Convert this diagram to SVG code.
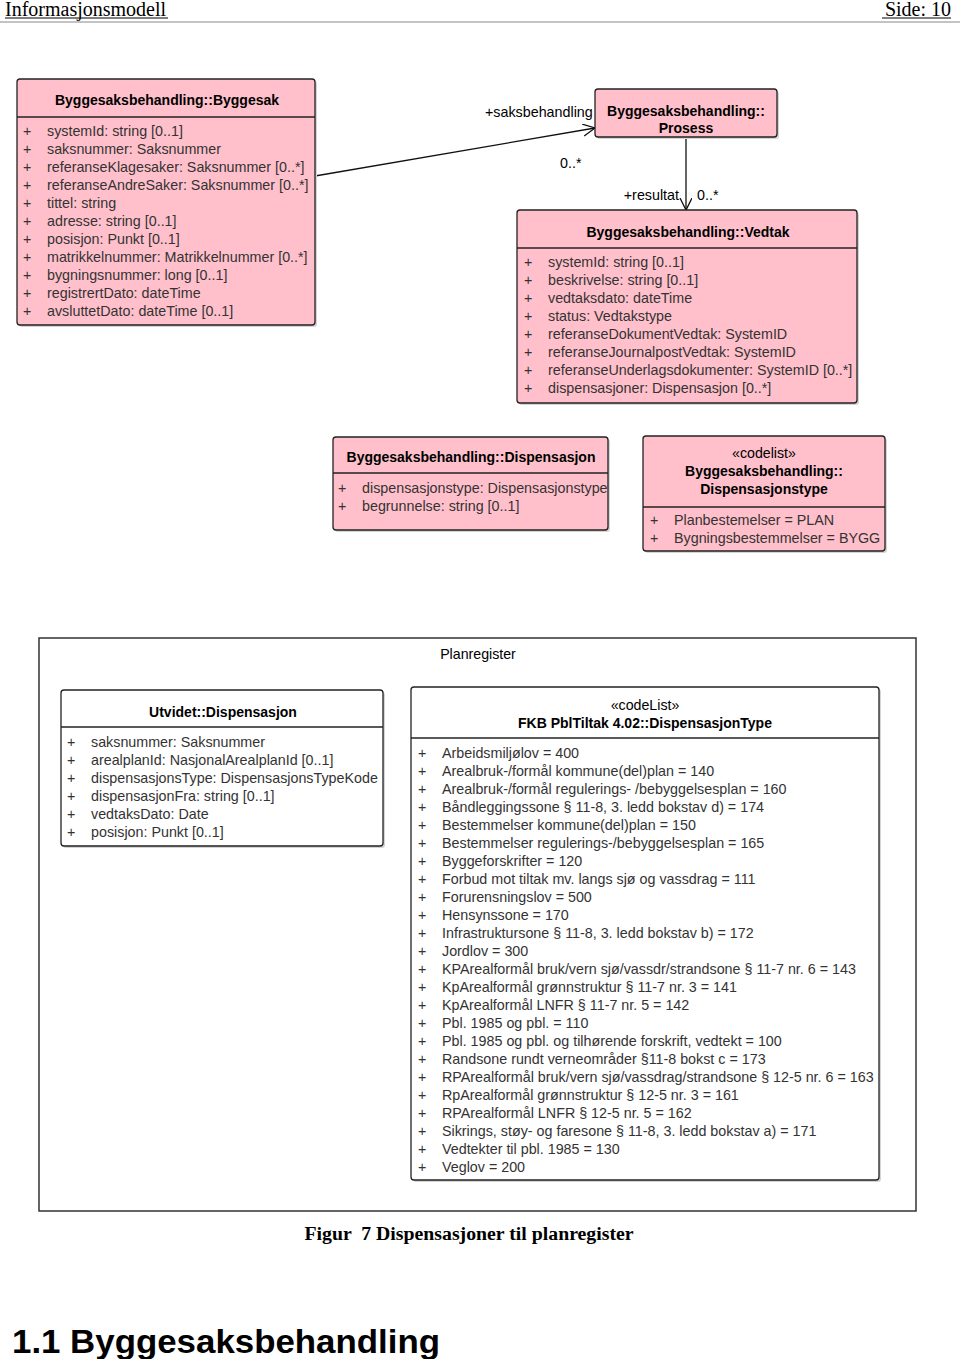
<svg xmlns="http://www.w3.org/2000/svg" width="960" height="1359" viewBox="0 0 960 1359">
<defs>
<style>
.box{fill:#FFC0CB;stroke:#222;stroke-width:1.3}
.wbox{fill:#fff;stroke:#222;stroke-width:1.3}
.sh{fill:#d4d4d4;stroke:none}
.sep{stroke:#222;stroke-width:1.3}
.t{font-family:"Liberation Sans",Arial,sans-serif;font-size:14px;font-weight:bold;fill:#000;text-anchor:middle}
.st{font-family:"Liberation Sans",Arial,sans-serif;font-size:14.2px;fill:#000;text-anchor:middle}
.a{font-family:"Liberation Sans",Arial,sans-serif;font-size:14.3px;fill:#333}
.lbl{font-family:"Liberation Sans",Arial,sans-serif;font-size:14.3px;fill:#000}
.conn{stroke:#111;stroke-width:1.3;fill:none}
</style>
<marker id="open" markerUnits="userSpaceOnUse" markerWidth="16" markerHeight="16" refX="12" refY="6" orient="auto">
<path d="M0,0 L12,6 L0,12" fill="none" stroke="#111" stroke-width="1.3"/>
</marker>
</defs>
<rect x="0" y="0" width="960" height="1359" fill="#fff"/>

<!-- page header -->
<g id="page-header">
<text x="5" y="16" font-family="Liberation Serif,'Times New Roman',serif" font-size="20" fill="#000">Informasjonsmodell</text>
<line x1="5" y1="18" x2="168" y2="18" stroke="#000" stroke-width="1"/>
<text x="951" y="16" font-family="Liberation Serif,'Times New Roman',serif" font-size="20" fill="#000" text-anchor="end">Side: 10</text>
<line x1="882" y1="18" x2="951" y2="18" stroke="#000" stroke-width="1"/>
<line x1="0" y1="22" x2="960" y2="22" stroke="#888" stroke-width="1"/>
</g>

<!-- connectors -->
<g id="connectors">
<line class="conn" x1="315" y1="176" x2="595" y2="128" marker-end="url(#open)"/>
<text class="lbl" x="485" y="117">+saksbehandling</text>
<text class="lbl" x="560" y="168">0..*</text>
<line class="conn" x1="686" y1="137" x2="686" y2="210" marker-end="url(#open)"/>
<text class="lbl" x="679" y="200" text-anchor="end">+resultat</text>
<text class="lbl" x="697" y="200">0..*</text>
</g>

<!-- Byggesak -->
<g id="byggesak">
<rect class="sh" x="19" y="81" width="298" height="246" rx="3"/>
<rect class="box" x="17" y="79" width="298" height="246" rx="3"/>
<line class="sep" x1="17" y1="117" x2="315" y2="117"/>
<text class="t" x="167" y="105">Byggesaksbehandling::Byggesak</text>
<g class="a">
<text x="23" y="136">+</text><text x="47" y="136">systemId: string [0..1]</text>
<text x="23" y="154">+</text><text x="47" y="154">saksnummer: Saksnummer</text>
<text x="23" y="172">+</text><text x="47" y="172">referanseKlagesaker: Saksnummer [0..*]</text>
<text x="23" y="190">+</text><text x="47" y="190">referanseAndreSaker: Saksnummer [0..*]</text>
<text x="23" y="208">+</text><text x="47" y="208">tittel: string</text>
<text x="23" y="226">+</text><text x="47" y="226">adresse: string [0..1]</text>
<text x="23" y="244">+</text><text x="47" y="244">posisjon: Punkt [0..1]</text>
<text x="23" y="262">+</text><text x="47" y="262">matrikkelnummer: Matrikkelnummer [0..*]</text>
<text x="23" y="280">+</text><text x="47" y="280">bygningsnummer: long [0..1]</text>
<text x="23" y="298">+</text><text x="47" y="298">registrertDato: dateTime</text>
<text x="23" y="316">+</text><text x="47" y="316">avsluttetDato: dateTime [0..1]</text>
</g>
</g>

<!-- Prosess -->
<g id="prosess">
<rect class="sh" x="597" y="91" width="182" height="48" rx="3"/>
<rect class="box" x="595" y="89" width="182" height="48" rx="3"/>
<text class="t" x="686" y="116">Byggesaksbehandling::</text>
<text class="t" x="686" y="133">Prosess</text>
</g>

<!-- Vedtak -->
<g id="vedtak">
<rect class="sh" x="519" y="212" width="340" height="193" rx="3"/>
<rect class="box" x="517" y="210" width="340" height="193" rx="3"/>
<line class="sep" x1="517" y1="248" x2="857" y2="248"/>
<text class="t" x="688" y="237">Byggesaksbehandling::Vedtak</text>
<g class="a">
<text x="524" y="267">+</text><text x="548" y="267">systemId: string [0..1]</text>
<text x="524" y="285">+</text><text x="548" y="285">beskrivelse: string [0..1]</text>
<text x="524" y="303">+</text><text x="548" y="303">vedtaksdato: dateTime</text>
<text x="524" y="321">+</text><text x="548" y="321">status: Vedtakstype</text>
<text x="524" y="339">+</text><text x="548" y="339">referanseDokumentVedtak: SystemID</text>
<text x="524" y="357">+</text><text x="548" y="357">referanseJournalpostVedtak: SystemID</text>
<text x="524" y="375">+</text><text x="548" y="375">referanseUnderlagsdokumenter: SystemID [0..*]</text>
<text x="524" y="393">+</text><text x="548" y="393">dispensasjoner: Dispensasjon [0..*]</text>
</g>
</g>

<!-- Dispensasjon -->
<g id="dispensasjon">
<rect class="sh" x="335" y="439" width="275" height="93" rx="3"/>
<rect class="box" x="333" y="437" width="275" height="93" rx="3"/>
<line class="sep" x1="333" y1="473" x2="608" y2="473"/>
<text class="t" x="471" y="462">Byggesaksbehandling::Dispensasjon</text>
<g class="a">
<text x="338" y="493">+</text><text x="362" y="493">dispensasjonstype: Dispensasjonstype</text>
<text x="338" y="511">+</text><text x="362" y="511">begrunnelse: string [0..1]</text>
</g>
</g>

<!-- Dispensasjonstype codelist -->
<g id="dispensasjonstype">
<rect class="sh" x="645" y="438" width="242" height="115" rx="3"/>
<rect class="box" x="643" y="436" width="242" height="115" rx="3"/>
<line class="sep" x1="643" y1="507" x2="885" y2="507"/>
<text class="st" x="764" y="458">«codelist»</text>
<text class="t" x="764" y="476">Byggesaksbehandling::</text>
<text class="t" x="764" y="494">Dispensasjonstype</text>
<g class="a">
<text x="650" y="525">+</text><text x="674" y="525">Planbestemelser = PLAN</text>
<text x="650" y="543">+</text><text x="674" y="543">Bygningsbestemmelser = BYGG</text>
</g>
</g>

<!-- Planregister frame -->
<g id="planregister">
<rect x="39" y="638" width="877" height="573" fill="#fff" stroke="#333" stroke-width="1.5"/>
<text class="st" x="478" y="659">Planregister</text>
</g>

<!-- Utvidet::Dispensasjon -->
<g id="utvidet-dispensasjon">
<rect class="sh" x="63" y="692" width="322" height="156" rx="3"/>
<rect class="wbox" x="61" y="690" width="322" height="156" rx="3"/>
<line class="sep" x1="61" y1="727" x2="383" y2="727"/>
<text class="t" x="223" y="717">Utvidet::Dispensasjon</text>
<g class="a">
<text x="67" y="747">+</text><text x="91" y="747">saksnummer: Saksnummer</text>
<text x="67" y="765">+</text><text x="91" y="765">arealplanId: NasjonalArealplanId [0..1]</text>
<text x="67" y="783">+</text><text x="91" y="783">dispensasjonsType: DispensasjonsTypeKode</text>
<text x="67" y="801">+</text><text x="91" y="801">dispensasjonFra: string [0..1]</text>
<text x="67" y="819">+</text><text x="91" y="819">vedtaksDato: Date</text>
<text x="67" y="837">+</text><text x="91" y="837">posisjon: Punkt [0..1]</text>
</g>
</g>

<!-- FKB DispensasjonType -->
<g id="fkb-dispensasjontype">
<rect class="sh" x="413" y="689" width="468" height="493" rx="3"/>
<rect class="wbox" x="411" y="687" width="468" height="493" rx="3"/>
<line class="sep" x1="411" y1="738" x2="879" y2="738"/>
<text class="st" x="645" y="710">«codeList»</text>
<text class="t" x="645" y="728">FKB PblTiltak 4.02::DispensasjonType</text>
<g class="a">
<text x="418" y="758">+</text><text x="442" y="758">Arbeidsmiljølov = 400</text>
<text x="418" y="776">+</text><text x="442" y="776">Arealbruk-/formål kommune(del)plan = 140</text>
<text x="418" y="794">+</text><text x="442" y="794">Arealbruk-/formål regulerings- /bebyggelsesplan = 160</text>
<text x="418" y="812">+</text><text x="442" y="812">Båndleggingssone § 11-8, 3. ledd bokstav d) = 174</text>
<text x="418" y="830">+</text><text x="442" y="830">Bestemmelser kommune(del)plan = 150</text>
<text x="418" y="848">+</text><text x="442" y="848">Bestemmelser regulerings-/bebyggelsesplan = 165</text>
<text x="418" y="866">+</text><text x="442" y="866">Byggeforskrifter = 120</text>
<text x="418" y="884">+</text><text x="442" y="884">Forbud mot tiltak mv. langs sjø og vassdrag = 111</text>
<text x="418" y="902">+</text><text x="442" y="902">Forurensningslov = 500</text>
<text x="418" y="920">+</text><text x="442" y="920">Hensynssone = 170</text>
<text x="418" y="938">+</text><text x="442" y="938">Infrastruktursone § 11-8, 3. ledd bokstav b) = 172</text>
<text x="418" y="956">+</text><text x="442" y="956">Jordlov = 300</text>
<text x="418" y="974">+</text><text x="442" y="974">KPArealformål bruk/vern sjø/vassdr/strandsone § 11-7 nr. 6 = 143</text>
<text x="418" y="992">+</text><text x="442" y="992">KpArealformål grønnstruktur § 11-7 nr. 3 = 141</text>
<text x="418" y="1010">+</text><text x="442" y="1010">KpArealformål LNFR § 11-7 nr. 5 = 142</text>
<text x="418" y="1028">+</text><text x="442" y="1028">Pbl. 1985 og pbl. = 110</text>
<text x="418" y="1046">+</text><text x="442" y="1046">Pbl. 1985 og pbl. og tilhørende forskrift, vedtekt = 100</text>
<text x="418" y="1064">+</text><text x="442" y="1064">Randsone rundt verneområder §11-8 bokst c = 173</text>
<text x="418" y="1082">+</text><text x="442" y="1082">RPArealformål bruk/vern sjø/vassdrag/strandsone § 12-5 nr. 6 = 163</text>
<text x="418" y="1100">+</text><text x="442" y="1100">RpArealformål grønnstruktur § 12-5 nr. 3 = 161</text>
<text x="418" y="1118">+</text><text x="442" y="1118">RPArealformål LNFR § 12-5 nr. 5 = 162</text>
<text x="418" y="1136">+</text><text x="442" y="1136">Sikrings, støy- og faresone § 11-8, 3. ledd bokstav a) = 171</text>
<text x="418" y="1154">+</text><text x="442" y="1154">Vedtekter til pbl. 1985 = 130</text>
<text x="418" y="1172">+</text><text x="442" y="1172">Veglov = 200</text>
</g>
</g>

<!-- caption and heading -->
<g id="caption">
<text x="469" y="1240" font-family="Liberation Serif,'Times New Roman',serif" font-size="19.8" font-weight="bold" fill="#000" text-anchor="middle" xml:space="preserve">Figur  7 Dispensasjoner til planregister</text>
</g>
<g id="heading">
<text x="12" y="1353" font-family="Liberation Sans,Arial,sans-serif" font-size="33" font-weight="bold" fill="#000" textLength="428" lengthAdjust="spacingAndGlyphs">1.1 Byggesaksbehandling</text>
</g>
</svg>
